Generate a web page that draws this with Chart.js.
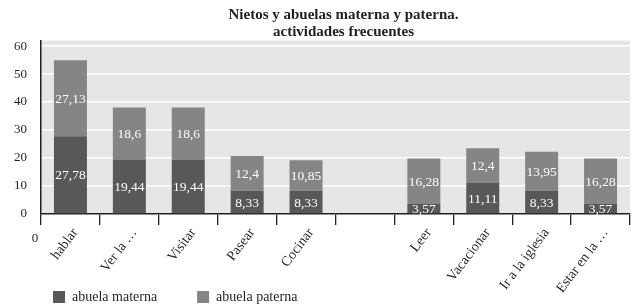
<!DOCTYPE html>
<html>
<head>
<meta charset="utf-8">
<script src="https://cdn.jsdelivr.net/npm/chart.js@4/dist/chart.umd.min.js"></script>
<style>
  html, body { margin: 0; padding: 0; background: #ffffff; }
  #wrap { width: 633px; height: 308px; }
</style>
</head>
<body>
<div id="wrap"><canvas id="c" width="633" height="308"></canvas></div>
<script>
const titleLines = ['Nietos y abuelas materna y paterna.', 'actividades frecuentes'];
const categories = ['hablar', 'Ver la …', 'Visitar', 'Pasear', 'Cocinar', '', 'Leer', 'Vacacionar', 'Ir a la iglesia', 'Estar en la …'];
const seriesNames = ['abuela materna', 'abuela paterna'];
const materna = [27.78, 19.44, 19.44, 8.33, 8.33, null, 3.57, 11.11, 8.33, 3.57];
const paterna = [27.13, 18.6, 18.6, 12.4, 10.85, null, 16.28, 12.4, 13.95, 16.28];
const yTicks = [0, 10, 20, 30, 40, 50, 60];
const strayLabel = '0';

const FONT = "'Liberation Serif', 'Times New Roman', serif";
const TEXT = '#231f20';
const DARK = '#58585a';
const LIGHT = '#858587';

const bgPlugin = {
  id: 'plotBg',
  afterLayout(chart) {
    // let rotated x labels extend below the scale box, move legend & title
    const x = chart.scales.x;
    x.bottom = chart.height;
    if (chart.legend) { chart.legend.top += 6; chart.legend.bottom += 6; }
    if (chart.titleBlock) { chart.titleBlock.left += 8; chart.titleBlock.right += 8; }
  },
  beforeDraw(chart) {
    const { ctx, chartArea: a } = chart;
    ctx.save();
    ctx.fillStyle = '#e6e6e6';
    ctx.fillRect(a.left, a.top, a.right - a.left, a.bottom - a.top);
    ctx.restore();
  }
};

const valueLabels = {
  id: 'valueLabels',
  afterDatasetsDraw(chart) {
    const { ctx } = chart;
    ctx.save();
    ctx.font = '13.5px ' + FONT;
    ctx.fillStyle = '#ffffff';
    ctx.textAlign = 'center';
    ctx.textBaseline = 'middle';
    chart.data.datasets.forEach((ds, di) => {
      const meta = chart.getDatasetMeta(di);
      meta.data.forEach((el, i) => {
        const v = ds.data[i];
        if (v === null || v === undefined) return;
        const y = (el.y + el.base) / 2;
        ctx.fillText(String(v).replace('.', ','), el.x, y + 1);
      });
    });
    ctx.restore();
  }
};

const strayPlugin = {
  id: 'stray',
  afterDraw(chart) {
    const { ctx, chartArea: a } = chart;
    ctx.save();
    ctx.font = '13px ' + FONT;
    ctx.fillStyle = TEXT;
    ctx.textAlign = 'center';
    ctx.textBaseline = 'middle';
    ctx.fillText(strayLabel, a.left - 6, a.bottom + 25);
    ctx.restore();
  }
};

new Chart(document.getElementById('c'), {
  type: 'bar',
  data: {
    labels: categories,
    datasets: [
      { label: seriesNames[0], data: materna, backgroundColor: DARK, borderWidth: 0, barPercentage: 0.56, categoryPercentage: 1 },
      { label: seriesNames[1], data: paterna, backgroundColor: LIGHT, borderWidth: 0, barPercentage: 0.56, categoryPercentage: 1 }
    ]
  },
  options: {
    responsive: false,
    animation: false,
    devicePixelRatio: 1,
    layout: { padding: { left: 0, right: 3, top: 0, bottom: 0 } },
    plugins: {
      tooltip: { enabled: false },
      title: {
        display: true,
        text: titleLines,
        fullSize: false,
        color: TEXT,
        font: { family: FONT, size: 15, weight: 'bold', lineHeight: 1.15 },
        padding: { top: 6, bottom: 0 }
      },
      legend: {
        position: 'bottom',
        align: 'start',
        fullSize: false,
        labels: {
          color: TEXT,
          font: { family: FONT, size: 14 },
          boxWidth: 12,
          boxHeight: 12,
          padding: 12,
          generateLabels(chart) {
            const items = Chart.defaults.plugins.legend.labels.generateLabels(chart);
            items.forEach((it, i) => { if (i === 0) it.text = it.text + '\u2003\u2003'; it.lineWidth = 0; });
            return items;
          }
        }
      }
    },
    scales: {
      x: {
        stacked: true,
        grid: { offset: true, drawOnChartArea: false, drawTicks: true, tickLength: 11, color: '#231f20', lineWidth: 1.3 },
        border: { display: true, color: '#231f20', width: 1.5 },
        ticks: {
          color: TEXT,
          font: { family: FONT, size: 14 },
          minRotation: 53,
          maxRotation: 53,
          padding: 0,
          labelOffset: 5,
          autoSkip: false
        },
        afterFit(scale) { scale.height = 58; }
      },
      y: {
        stacked: true,
        min: 0,
        max: 62,
        afterBuildTicks(scale) { scale.ticks = yTicks.map(v => ({ value: v })); },
        grid: { color: '#ffffff', lineWidth: 1.5, drawTicks: false },
        border: { display: true, color: '#231f20', width: 1.5 },
        ticks: { color: TEXT, font: { family: FONT, size: 13 }, padding: 14 },
        afterFit(scale) { scale.width = 41; }
      }
    }
  },
  plugins: [bgPlugin, valueLabels, strayPlugin]
});
</script>
</body>
</html>
